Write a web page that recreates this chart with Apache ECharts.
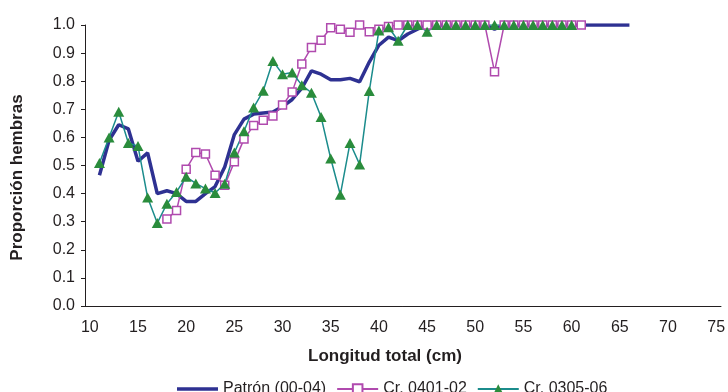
<!DOCTYPE html>
<html>
<head>
<meta charset="utf-8">
<script src="https://cdn.jsdelivr.net/npm/echarts@6/dist/echarts.min.js"></script>
<style>
  html, body { margin: 0; padding: 0; background: #fff; }
  #chart { width: 728px; height: 392px; }
</style>
</head>
<body>
<div id="chart"></div>
<script>
// longitud total (cm), one category per cm
const categories = ['10','11','12','13','14','15','16','17','18','19','20','21','22','23','24','25','26','27','28','29',
  '30','31','32','33','34','35','36','37','38','39','40','41','42','43','44','45','46','47','48','49',
  '50','51','52','53','54','55','56','57','58','59','60','61','62','63','64','65','66','67','68','69',
  '70','71','72','73','74','75']

// Patrón (00-04): 11..66 cm
const patronStart = 11
const patron = [0.465, 0.59, 0.645, 0.63, 0.515, 0.545, 0.40, 0.41, 0.40, 0.372,
  0.372, 0.40, 0.425, 0.495, 0.61, 0.665, 0.683, 0.687, 0.69, 0.71,
  0.735, 0.775, 0.837, 0.825, 0.805, 0.805, 0.81, 0.798, 0.868, 0.928,
  0.957, 0.944, 0.968, 0.985, 1, 1, 1, 1, 1, 1,
  1, 0.985, 1, 1, 1, 1, 1, 1, 1, 1,
  1, 1, 1, 1, 1, 1]

// Cr. 0401-02: 18..61 cm
const cr0401Start = 18
const cr0401 = [0.31, 0.34, 0.487, 0.546, 0.541, 0.465, 0.43, 0.513, 0.594, 0.642,
  0.661, 0.676, 0.715, 0.762, 0.861, 0.92, 0.946, 0.99, 0.985, 0.974,
  1, 0.976, 0.985, 0.995, 1, 1, 1, 1, 1, 1,
  1, 1, 1, 1, 0.834, 1, 1, 1, 1, 1,
  1, 1, 1, 1]

// Cr. 0305-06: 11..60 cm
const cr0305Start = 11
const cr0305 = [0.509, 0.60, 0.691, 0.58, 0.569, 0.386, 0.295, 0.364, 0.406, 0.46,
  0.436, 0.418, 0.402, 0.435, 0.546, 0.622, 0.706, 0.766, 0.872, 0.825,
  0.831, 0.786, 0.759, 0.673, 0.525, 0.396, 0.58, 0.504, 0.765, 0.98,
  0.992, 0.944, 1, 1, 0.976, 1, 1, 1, 1, 1,
  1, 1, 1, 1, 1, 1, 1, 1, 1, 1]

const textColor = '#231f20'
const font = 'Liberation Sans'
const patronColor = '#2e3192'
const pinkColor = '#b04aae'
const tealColor = '#1b8c8c'
const greenColor = '#2a8c3c'

function toPairs(start, values) {
  return values.map((v, i) => [String(start + i), v])
}

const chart = echarts.init(document.getElementById('chart'), null, { renderer: 'canvas' })
chart.setOption({
  animation: false,
  textStyle: { fontFamily: font, color: textColor },
  grid: { left: 85, right: 0, top: 25, bottom: 86, containLabel: false },
  legend: {
    left: 172,
    top: 376,
    itemWidth: 41,
    itemHeight: 12,
    itemGap: 10,
    textStyle: { fontFamily: font, fontSize: 16, color: textColor },
    data: [
      // thick line only, tiny corner dots keep the icon box at 41x12
      { name: 'Patrón (00-04)', icon: 'path://M0,0h0.05v0.05h-0.05z M0,4.3h41v3.4h-41z M40.95,11.95h0.05v0.05h-0.05z' },
      'Cr. 0401-02',
      'Cr. 0305-06'
    ]
  },
  xAxis: {
    type: 'category',
    data: categories,
    boundaryGap: true,
    name: 'Longitud total (cm)',
    nameLocation: 'middle',
    nameGap: 42,
    nameTextStyle: { fontFamily: font, fontSize: 17, fontWeight: 'bold', color: textColor, padding: [0, 36, 0, 0] },
    axisLine: { lineStyle: { color: textColor, width: 1 } },
    axisTick: { interval: 0, length: 4, lineStyle: { color: textColor } },
    axisLabel: { interval: 4, margin: 14, fontSize: 16, color: textColor, fontFamily: font },
    splitLine: { show: false }
  },
  yAxis: {
    type: 'value',
    min: 0,
    max: 1,
    interval: 0.1,
    name: 'Proporción hembras',
    nameLocation: 'middle',
    nameGap: 59,
    nameTextStyle: { fontFamily: font, fontSize: 17, fontWeight: 'bold', color: textColor, padding: [0, 24, 0, 0] },
    axisLine: { show: true, lineStyle: { color: textColor, width: 1 } },
    axisTick: { show: true, length: 4, lineStyle: { color: textColor } },
    axisLabel: { margin: 10, fontSize: 16, color: textColor, fontFamily: font, formatter: v => v.toFixed(1) },
    splitLine: { show: false }
  },
  series: [{
    name: 'Patrón (00-04)',
    type: 'line',
    data: toPairs(patronStart, patron),
    symbol: 'none',
    lineStyle: { color: patronColor, width: 3.5 },
    itemStyle: { color: patronColor }
  }, {
    name: 'Cr. 0401-02',
    type: 'line',
    data: toPairs(cr0401Start, cr0401),
    symbol: 'rect',
    symbolSize: 8,
    showAllSymbol: true,
    lineStyle: { color: pinkColor, width: 1.5 },
    itemStyle: { color: '#fff', borderColor: pinkColor, borderWidth: 1.5 }
  }, {
    name: 'Cr. 0305-06',
    type: 'line',
    data: toPairs(cr0305Start, cr0305),
    symbol: 'triangle',
    symbolSize: [11, 10],
    showAllSymbol: true,
    lineStyle: { color: tealColor, width: 1.5 },
    itemStyle: { color: greenColor, borderWidth: 0 }
  }]
})
</script>
</body>
</html>
